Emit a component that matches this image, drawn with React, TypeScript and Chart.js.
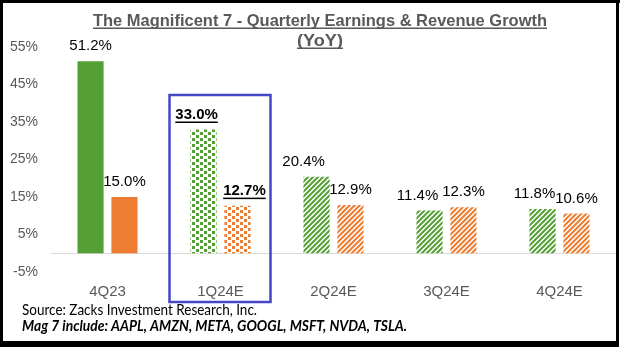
import React, { useEffect, useRef } from 'react';
import { Chart, registerables } from 'chart.js';

Chart.register(...registerables);

const categories = ['4Q23', '1Q24E', '2Q24E', '3Q24E', '4Q24E'];
const earningsGrowth = [51.2, 33.0, 20.4, 11.4, 11.8];
const revenueGrowth = [15.0, 12.7, 12.9, 12.3, 10.6];
const yMin = -5;
const yMax = 55;
const yStep = 10;
const titleLines = ['The Magnificent 7 - Quarterly Earnings & Revenue Growth', '(YoY)'];
const sourceNote = 'Source: Zacks Investment Research, Inc.';
const membersNote = 'Mag 7 include: AAPL, AMZN, META, GOOGL, MSFT, NVDA, TSLA.';
const barFills = ['solid', 'dots', 'stripes', 'stripes', 'stripes'];
const highlightIndex = 1;

// style constants
const GREEN = '#55A034';
const ORANGE = '#ED7D31';
const GRAY_TEXT = '#595959';
const earningsLabelDx = [0, -7, -13, -12, -8];
const revenueLabelDx = [0, 7, 0, 0, 0];

function makePattern(kind: string, color: string): CanvasPattern | string {
  if (kind === 'solid') return color;
  const c = document.createElement('canvas');
  const g = c.getContext('2d')!;
  if (kind === 'dots') {
    c.width = 8;
    c.height = 6;
    g.fillStyle = '#ffffff';
    g.fillRect(0, 0, 8, 6);
    g.fillStyle = color;
    g.fillRect(0, 0, 3, 3);
    g.fillRect(4, 3, 3, 3);
  } else {
    c.width = 5;
    c.height = 5;
    g.fillStyle = '#ffffff';
    g.fillRect(0, 0, 5, 5);
    g.strokeStyle = color;
    g.lineWidth = 2;
    g.beginPath();
    g.moveTo(-1, 6);
    g.lineTo(6, -1);
    g.moveTo(-2, 2);
    g.lineTo(2, -2);
    g.moveTo(3, 7);
    g.lineTo(7, 3);
    g.stroke();
  }
  return g.createPattern(c, 'repeat')!;
}

function fillFit(ctx: CanvasRenderingContext2D, text: string, x: number, y: number, targetW: number, align: CanvasTextAlign) {
  const w = ctx.measureText(text).width;
  let s = targetW / w;
  if (s > 1.12) s = 1.12;
  if (s < 0.85) s = 0.85;
  ctx.save();
  ctx.translate(x, y);
  ctx.scale(s, 1);
  ctx.textAlign = align;
  ctx.fillText(text, 0, 0);
  ctx.restore();
  return w * s;
}

const overlayPlugin = {
  id: 'overlay',
  beforeDraw(chart: any) {
    const ctx = chart.ctx as CanvasRenderingContext2D;
    ctx.save();
    ctx.fillStyle = '#ffffff';
    ctx.fillRect(0, 0, chart.width, chart.height);
    ctx.restore();
  },
  beforeDatasetsDraw(chart: any) {
    const ctx = chart.ctx as CanvasRenderingContext2D;
    const y = Math.round(chart.scales.y.getPixelForValue(0)) + 0.5;
    ctx.save();
    ctx.strokeStyle = '#D9D9D9';
    ctx.lineWidth = 1;
    ctx.beginPath();
    ctx.moveTo(chart.chartArea.left, y);
    ctx.lineTo(chart.chartArea.right, y);
    ctx.stroke();
    ctx.restore();
  },
  afterDatasetsDraw(chart: any) {
    const ctx = chart.ctx as CanvasRenderingContext2D;
    ctx.save();
    ctx.textBaseline = 'middle';
    ctx.fillStyle = '#000000';
    chart.data.datasets.forEach((ds: any, di: number) => {
      const meta = chart.getDatasetMeta(di);
      meta.data.forEach((bar: any, i: number) => {
        const v = ds.data[i];
        const text = v.toFixed(1) + '%';
        const dx = di === 0 ? earningsLabelDx[i] : revenueLabelDx[i];
        const x = bar.x + dx;
        const y = bar.y - 15;
        const bold = i === highlightIndex;
        ctx.font = (bold ? 'bold ' : '') + '15px "Liberation Sans", Arial, sans-serif';
        ctx.textAlign = 'center';
        ctx.fillText(text, x, y);
        if (bold) {
          const w = ctx.measureText(text).width;
          ctx.fillRect(x - w / 2, y + 7, w, 1.5);
        }
      });
    });
    // highlight box
    const xs = chart.scales.x;
    const cx = xs.getPixelForValue(highlightIndex);
    const ca = chart.chartArea;
    ctx.strokeStyle = '#4646C8';
    ctx.lineWidth = 2.5;
    ctx.strokeRect(cx - 51, ca.top + 48, 101, ca.bottom - ca.top - 48 + 30);
    ctx.restore();
  },
  afterDraw(chart: any) {
    const ctx = chart.ctx as CanvasRenderingContext2D;
    ctx.save();
    // title
    ctx.fillStyle = GRAY_TEXT;
    ctx.textBaseline = 'alphabetic';
    ctx.font = 'bold 16.5px "Liberation Sans", Arial, sans-serif';
    const tw1 = fillFit(ctx, titleLines[0], 320, 26, 454, 'center');
    ctx.fillRect(320 - tw1 / 2, 27.5, tw1, 1.5);
    const tw2 = fillFit(ctx, titleLines[1], 320, 46, 46, 'center');
    ctx.fillRect(320 - tw2 / 2, 47.5, tw2, 1.5);
    // notes
    ctx.fillStyle = '#000000';
    ctx.textBaseline = 'middle';
    ctx.font = '15px Lato, "Open Sans", sans-serif';
    fillFit(ctx, sourceNote, 22, 310, 235, 'left');
    ctx.font = 'italic bold 15px Lato, "Open Sans", sans-serif';
    fillFit(ctx, membersNote, 22, 326, 385, 'left');
    // frame
    ctx.fillStyle = '#000000';
    ctx.fillRect(0, 0, 620, 3);
    ctx.fillRect(0, 0, 3, 347);
    ctx.fillRect(616, 0, 3, 347);
    ctx.fillRect(0, 341, 619, 6);
    ctx.restore();
  },
};

export default function App() {
  const canvasRef = useRef<HTMLCanvasElement | null>(null);

  useEffect(() => {
    const canvas = canvasRef.current;
    if (!canvas) return;
    const greenFills = barFills.map((k) => makePattern(k, GREEN));
    const orangeFills = barFills.map((k) => makePattern(k, ORANGE));

    const chart = new Chart(canvas, {
      type: 'bar',
      data: {
        labels: categories,
        datasets: [
          {
            label: 'Earnings Growth',
            data: earningsGrowth,
            backgroundColor: greenFills as any,
            borderWidth: 0,
            categoryPercentage: 0.6,
            barPercentage: 0.77,
          },
          {
            label: 'Revenue Growth',
            data: revenueGrowth,
            backgroundColor: orangeFills as any,
            borderWidth: 0,
            categoryPercentage: 0.6,
            barPercentage: 0.77,
          },
        ],
      },
      options: {
        responsive: false,
        animation: false,
        layout: { padding: { top: 47, right: 4, bottom: 48, left: 0 } },
        plugins: {
          legend: { display: false },
          title: { display: false },
          tooltip: { enabled: false },
        },
        scales: {
          x: {
            grid: { display: false, drawTicks: false },
            border: { display: false },
            ticks: {
              color: GRAY_TEXT,
              font: { family: '"Liberation Sans", Arial, sans-serif', size: 15 },
              padding: 11,
              maxRotation: 0,
            },
            afterFit: (scale: any) => {
              scale.height = 30;
            },
          },
          y: {
            min: yMin,
            max: yMax,
            grid: { display: false, drawTicks: false },
            border: { display: false },
            ticks: {
              stepSize: yStep,
              color: GRAY_TEXT,
              font: { family: '"Liberation Sans", Arial, sans-serif', size: 14 },
              padding: 13,
              callback: (v: any) => v + '%',
            },
            afterFit: (scale: any) => {
              scale.width = 51;
            },
          },
        },
      },
      plugins: [overlayPlugin],
    });
    return () => chart.destroy();
  }, []);

  return (
    <div style={{ position: 'absolute', left: 0, top: 0, width: 620, height: 350, background: '#fff' }}>
      <canvas ref={canvasRef} width={620} height={350} style={{ display: 'block' }} />
    </div>
  );
}
